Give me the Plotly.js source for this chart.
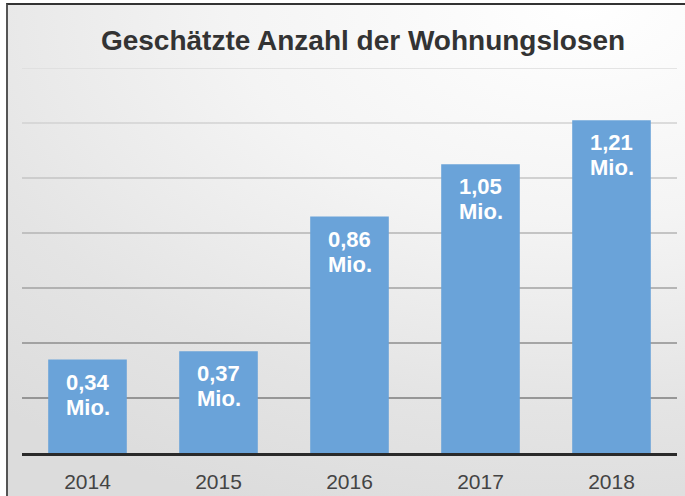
<!DOCTYPE html>
<html>
<head>
<meta charset="utf-8">
<script src="https://cdn.plot.ly/plotly-3.0.1.min.js"></script>
<style>
  html, body { margin: 0; padding: 0; background: #ffffff; }
  #wrap { position: relative; width: 685px; height: 496px; overflow: hidden; background: #ffffff; }
  #bg { position: absolute; left: 6px; top: 3px; right: 0; bottom: 0;
        border-left: 2px solid #555; border-top: 2px solid #333;
        background: radial-gradient(ellipse 130% 110% at 85% 0%, #ffffff 0%, #f4f4f4 40%, #e4e4e4 75%, #dcdcdc 100%); }
  #chart { position: absolute; left: 0; top: 0; width: 685px; height: 496px; }
</style>
</head>
<body>
<div id="wrap"><div id="bg"></div><div id="chart"></div></div>
<script>
// ---- data ----
const years = ['2014', '2015', '2016', '2017', '2018'];
const values = [0.34, 0.37, 0.86, 1.05, 1.21];
const unitLabel = 'Mio.';
const gridValues = [0.2, 0.4, 0.6, 0.8, 1.0, 1.2, 1.4];
const chartTitle = 'Geschätzte Anzahl der Wohnungslosen';

// ---- styles ----
const barColor = '#6aa3d9';
const fontFamily = 'Liberation Sans, Arial, Helvetica, sans-serif';
const gridColors = ['#7c7c7c', '#8e8e8e', '#a2a2a2', '#b4b4b4', '#c4c4c4', '#d2d2d2', '#dcdcdc'];

const numLabels = values.map(v => v.toFixed(2).replace('.', ','));

const annotations = [];
years.forEach((yr, i) => {
  annotations.push({
    x: i, y: values[i], xref: 'x', yref: 'y', text: numLabels[i],
    showarrow: false, yanchor: 'top', yshift: -9, borderpad: 0,
    font: { family: fontFamily, size: 22, color: '#ffffff', weight: 'bold' }
  });
  annotations.push({
    x: i, y: values[i], xref: 'x', yref: 'y', text: unitLabel,
    showarrow: false, yanchor: 'top', yshift: -34, borderpad: 0,
    font: { family: fontFamily, size: 22, color: '#ffffff', weight: 'bold' }
  });
});

const shapes = gridValues.map((v, i) => ({
  type: 'line', xref: 'paper', yref: 'y', x0: 0, x1: 1, y0: v, y1: v,
  layer: 'below', line: { color: gridColors[i], width: 1.5 }
}));

const trace = {
  type: 'bar', x: years, y: values,
  marker: { color: barColor, line: { width: 0 } },
  hoverinfo: 'x+y'
};

const layout = {
  width: 685, height: 496,
  margin: { l: 22, r: 8, t: 68, b: 43 },
  paper_bgcolor: 'rgba(0,0,0,0)',
  plot_bgcolor: 'rgba(0,0,0,0)',
  bargap: 0.4,
  showlegend: false,
  title: {
    text: chartTitle,
    x: 0.53, xanchor: 'center', xref: 'container',
    y: 0.918, yanchor: 'middle', yref: 'container',
    font: { family: fontFamily, size: 28, color: '#333333', weight: 'bold' }
  },
  xaxis: {
    type: 'category',
    categoryorder: 'array', categoryarray: years,
    range: [-0.5, years.length - 0.5],
    showgrid: false, zeroline: false,
    showline: true, linecolor: '#2a2a2a', linewidth: 2.5,
    ticks: '', ticklabelstandoff: 8,
    tickfont: { family: fontFamily, size: 21, color: '#444444' },
    fixedrange: true
  },
  yaxis: {
    range: [0, 1.4],
    showgrid: false, zeroline: false, showline: false,
    showticklabels: false, ticks: '',
    fixedrange: true
  },
  shapes: shapes,
  annotations: annotations
};

Plotly.newPlot('chart', [trace], layout, { displayModeBar: false, staticPlot: true });
</script>
</body>
</html>
